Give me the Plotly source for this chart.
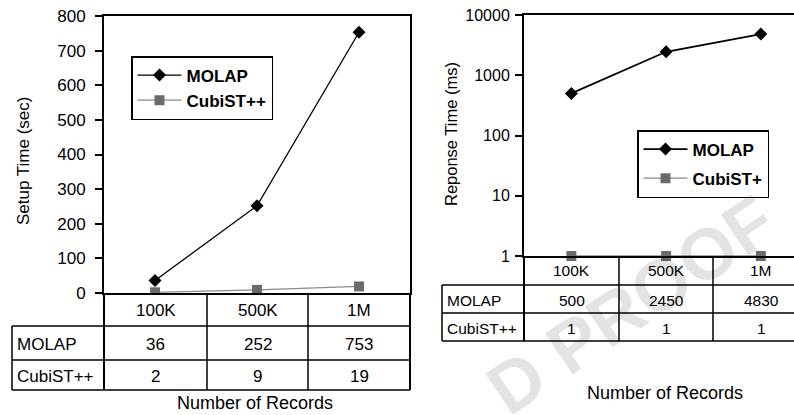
import plotly.graph_objects as go

W, H = 794, 415
categories = ["100K", "500K", "1M"]
setup_molap = [36, 252, 753]
setup_cubist = [2, 9, 19]
resp_molap = [500, 2450, 4830]
resp_cubist = [1, 1, 1]
row_labels = ["MOLAP", "CubiST++"]
left_ticks = [0, 100, 200, 300, 400, 500, 600, 700, 800]
right_ticks = [1, 10, 100, 1000, 10000]

FONT = "Liberation Sans, Arial, sans-serif"
GRAY_M = "#6b6b6b"
GRAY_L = "#8a8a8a"


def px(x):
    return x / W


def py(y):
    return 1 - y / H


fig = go.Figure()

# left chart traces
fig.add_trace(go.Scatter(x=categories, y=setup_molap, mode="lines+markers", name="MOLAP",
                         line=dict(color="black", width=1.3),
                         marker=dict(symbol="diamond", size=10, color="black"),
                         xaxis="x", yaxis="y", legend="legend", legendgroup="a"))
fig.add_trace(go.Scatter(x=categories, y=setup_cubist, mode="lines+markers", name="CubiST++",
                         line=dict(color=GRAY_L, width=1.3),
                         marker=dict(symbol="square", size=10, color=GRAY_M),
                         xaxis="x", yaxis="y", legend="legend", legendgroup="b"))
# right chart traces
fig.add_trace(go.Scatter(x=categories, y=resp_molap, mode="lines+markers", name="MOLAP",
                         line=dict(color="black", width=1.8),
                         marker=dict(symbol="diamond", size=10, color="black"),
                         xaxis="x2", yaxis="y2", legend="legend2", legendgroup="c",
                         cliponaxis=False))
fig.add_trace(go.Scatter(x=categories, y=resp_cubist, mode="lines+markers", name="CubiST+",
                         line=dict(color=GRAY_L, width=1.3),
                         marker=dict(symbol="square", size=10, color=GRAY_M),
                         xaxis="x2", yaxis="y2", legend="legend2", legendgroup="d",
                         cliponaxis=False))

axis_common = dict(showgrid=False, zeroline=False, showline=True, linecolor="black",
                   linewidth=2, automargin=False)

shapes = []
annotations = []


def line(x0, y0, x1, y1, w=1.5):
    shapes.append(dict(type="line", xref="paper", yref="paper",
                       x0=px(x0), y0=py(y0), x1=px(x1), y1=py(y1),
                       line=dict(color="black", width=w), layer="above"))


def text(x, y, s, size, xanchor="center", **kw):
    annotations.append(dict(xref="paper", yref="paper", x=px(x), y=py(y), text=s,
                            showarrow=False, xanchor=xanchor, yanchor="middle",
                            font=dict(family=FONT, size=size, color="black"), **kw))


# watermark (drawn first, semi-transparent)
annotations.append(dict(xref="paper", yref="paper", x=px(631), y=py(305),
                        text="<b>D PROOF</b>", showarrow=False, textangle=-34,
                        xanchor="center", yanchor="middle",
                        font=dict(family=FONT, size=72, color="rgba(0,0,0,0.11)")))

# ---- left table ----
L_lab, L_cols, L_rows = 12, [104, 207, 308, 410], [293, 326, 360, 390]
for yy in L_rows[1:]:
    line(L_lab, yy, L_cols[-1], yy)
line(L_lab, L_rows[1], L_lab, L_rows[-1])
for i, xx in enumerate(L_cols):
    line(xx, L_rows[0], xx, L_rows[-1], 2 if i in (0, 3) else 1.5)
for j, cat in enumerate(categories):
    cx = (L_cols[j] + L_cols[j + 1]) / 2
    text(cx, (L_rows[0] + L_rows[1]) / 2 + 0.5, cat, 17)
    text(cx, (L_rows[1] + L_rows[2]) / 2 + 1.5, str(setup_molap[j]), 17)
    text(cx, (L_rows[2] + L_rows[3]) / 2 + 1.5, str(setup_cubist[j]), 17)
for k, lab in enumerate(row_labels):
    text(15, (L_rows[k + 1] + L_rows[k + 2]) / 2 + 1.5, lab, 17, xanchor="left")
text(255, 403, "Number of Records", 18)
text(23, 161, "Setup Time (sec)", 17, textangle=-90)

# ---- right table ----
R_lab, R_cols, R_rows = 442, [524, 619, 713], [256, 285, 313, 341]
for yy in R_rows[1:]:
    line(R_lab, yy, W, yy)
line(R_lab, R_rows[1], R_lab, R_rows[-1])
for i, xx in enumerate(R_cols):
    line(xx, R_rows[0], xx, R_rows[-1], 2 if i == 0 else 1.5)
R_centers = [571.5, 666, 761]
for j, cat in enumerate(categories):
    cx = R_centers[j]
    text(cx, (R_rows[0] + R_rows[1]) / 2, cat, 15.5)
    text(cx, (R_rows[1] + R_rows[2]) / 2 + 1, str(resp_molap[j]), 15.5)
    text(cx, (R_rows[2] + R_rows[3]) / 2 + 1, str(resp_cubist[j]), 15.5)
for k, lab in enumerate(row_labels):
    text(445, (R_rows[k + 1] + R_rows[k + 2]) / 2 + 1, lab, 15.5, xanchor="left")
text(665, 393, "Number of Records", 18)
text(451, 134, "Reponse Time (ms)", 16.5, textangle=-90)

legend_common = dict(bgcolor="white", bordercolor="black", borderwidth=1.5,
                     traceorder="grouped", itemwidth=44,
                     font=dict(family=FONT, size=17, color="black", weight="bold"),
                     xanchor="left", yanchor="top")

fig.update_layout(
    width=W, height=H, margin=dict(l=0, r=0, t=0, b=0, autoexpand=False),
    paper_bgcolor="white", plot_bgcolor="white",
    font=dict(family=FONT, color="black"),
    showlegend=True,
    xaxis=dict(domain=[px(104), px(410)], type="category", range=[-0.5, 2.5],
               showticklabels=False, ticks="", mirror=True, **axis_common),
    yaxis=dict(domain=[py(293), py(16)], range=[0, 800], tickvals=left_ticks,
               ticks="outside", ticklen=7, tickwidth=1.5, tickcolor="black",
               ticklabelstandoff=6, mirror=True,
               tickfont=dict(family=FONT, size=17, color="black"), **axis_common),
    xaxis2=dict(domain=[px(524), 1], type="category", range=[-0.5, 2.35],
                showticklabels=False, ticks="", mirror=True, anchor="y2", **axis_common),
    yaxis2=dict(domain=[py(256), py(15)], type="log", range=[0, 4], tickvals=right_ticks,
                ticktext=[str(v) for v in right_ticks],
                ticks="outside", ticklen=7, tickwidth=1.5, tickcolor="black",
                ticklabelstandoff=2, anchor="x2",
                tickfont=dict(family=FONT, size=16, color="black"), **axis_common),
    legend=dict(x=px(131), y=py(56), tracegroupgap=0, **legend_common),
    legend2=dict(x=px(637), y=py(130), tracegroupgap=4, **legend_common),
    shapes=shapes, annotations=annotations,
)

fig.write_html("out.html")
